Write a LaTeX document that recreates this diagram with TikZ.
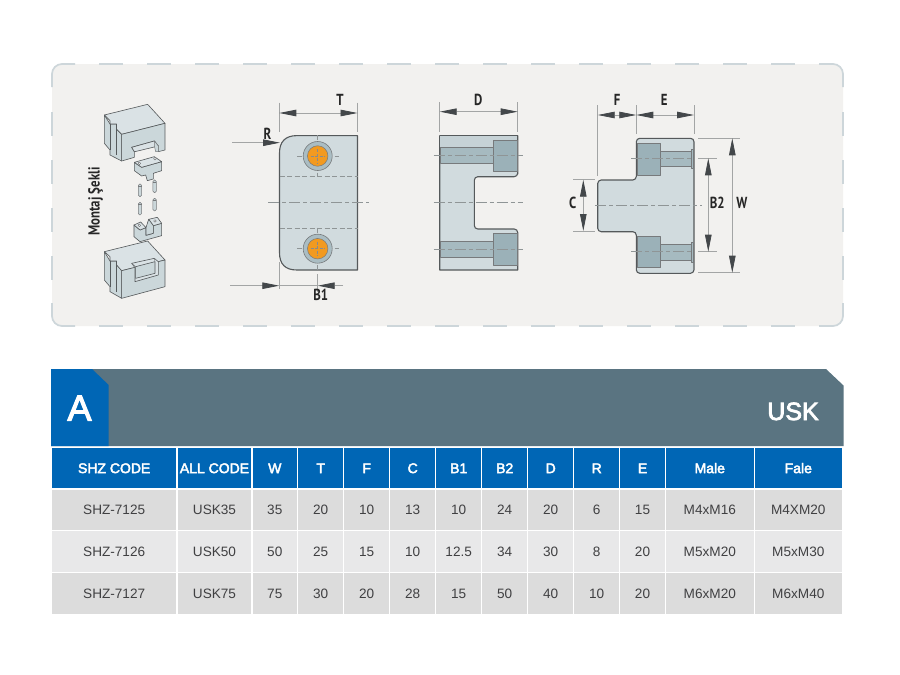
\documentclass[tikz,border=0pt]{standalone}
\usepackage{fontspec}
\usepackage{graphicx}
\setmainfont{Liberation Sans}
\newfontfamily\dinfont{PT Sans}
\newfontfamily\medfont[FakeBold=3]{Liberation Sans}
\usetikzlibrary{arrows.meta}
\definecolor{panelbg}{HTML}{F2F1EF}
\definecolor{panelln}{HTML}{CDD6DA}
\definecolor{steel}{HTML}{D1DBDE}
\definecolor{steelb}{HTML}{C6D2D6}
\definecolor{steeld}{HTML}{A6BAC0}
\definecolor{steelc}{HTML}{9BB1B8}
\definecolor{isolight}{HTML}{DAE2E5}
\definecolor{isomid}{HTML}{CBD7DA}
\definecolor{edge}{HTML}{55595B}
\definecolor{dimln}{HTML}{A3A5A5}
\definecolor{tipc}{HTML}{43474A}
\definecolor{cline}{HTML}{8F9596}
\definecolor{orangeb}{HTML}{F29A20}
\definecolor{banner}{HTML}{5A7481}
\definecolor{blueh}{HTML}{0066B5}
\definecolor{rowa}{HTML}{DCDCDC}
\definecolor{rowb}{HTML}{E8E8E9}
\definecolor{bodytx}{HTML}{404042}
\newcommand\tcell[7]{\fill[#1] (#3,#5) rectangle (#4,#6);
  \node[#2] (#7) at ({(#3+#4)/2},{(#5+#6)/2+5.2}) {\cellt};}
\newcommand\condt[1]{\scalebox{.8}[1]{#1}}
\tikzset{
  dimtip/.tip={Triangle[length=17pt,width=6.5pt,color=tipc,fill=tipc]},
  dimline/.style={draw=dimln,line width=.8pt},
  dimarrow/.style={dimline,{dimtip}-{dimtip}},
  dimlabel/.style={font=\dinfont\bfseries\fontsize{16}{16}\selectfont,text=black!85,inner sep=0pt},
  bodyln/.style={draw=edge,line width=1.1pt,line join=round},
  thin edge/.style={draw=edge!80,line width=.5pt,line join=round},
  cent/.style={draw=cline,line width=.8pt,dash pattern=on 11pt off 3pt on 4pt off 3pt},
  hid/.style={draw=cline,line width=.6pt,dash pattern=on 5pt off 2.5pt},
  isoA/.style={draw=edge,line width=.6pt,line join=round,fill=isolight},
  isoB/.style={draw=edge,line width=.6pt,line join=round,fill=isomid},
  hcell/.style={anchor=base,text=white,inner sep=0pt,font=\medfont\fontsize{14}{14}\selectfont},
  bcell/.style={anchor=base,text=bodytx,inner sep=0pt,font=\fontsize{13.6}{14}\selectfont},
  panelstroke/.style={draw=panelln,line width=1.7pt},
}
\begin{document}
\begin{tikzpicture}[x=1pt,y=-1pt]
\useasboundingbox (0,0) rectangle (900,675);
\fill[white] (0,0) rectangle (900,675);
% panel
\fill[panelbg,rounded corners=10pt] (52,64) rectangle (843,326);
\draw[panelstroke,rounded corners=10pt] (52,87) -- (52,64) -- (75,64);
\draw[panelstroke,rounded corners=10pt] (52,303) -- (52,326) -- (75,326);
\draw[panelstroke,rounded corners=10pt] (843,87) -- (843,64) -- (819,64);
\draw[panelstroke,rounded corners=10pt] (843,303) -- (843,326) -- (819,326);
\foreach \x in {99,147,...,771}{
  \draw[panelstroke] (\x,64) -- (\x+24,64);
  \draw[panelstroke] (\x,326) -- (\x+24,326);}
\foreach \y in {112,160,208,256}{
  \draw[panelstroke] (52,\y) -- (52,\y+24);
  \draw[panelstroke] (843,\y) -- (843,\y+24);}

% assembly: upper block
\begin{scope}[shift={(95,100)},x=.3333pt,y=-.3333pt]
  \draw[isoB] (28,45) -- (28,130) -- (45,150) -- (45,165) -- (80,183) -- (80,103) -- (65,88) -- (65,72) -- (45,72) -- cycle;
  \draw[isoA] (28,45) -- (158,13) -- (210,70) -- (80,103) -- (65,88) -- (65,72) -- (45,72) -- (45,62) -- cycle;
  \draw[isoB] (45,72) -- (45,150);
  \draw[isoB] (65,72) -- (65,165);
  \draw[isoB] (80,103) -- (80,183) -- (118,172) -- (118,155) -- (110,142) -- (178,123) -- (190,138) -- (190,155) -- (210,150) -- (210,70) -- cycle;
  \draw[isoA] (110,142) -- (178,123) -- (190,138) -- (124,154) -- (118,155) -- cycle;
  \draw[thin edge,fill=isomid] (178,123) -- (190,138) -- (190,155) -- (182,155) -- (178,137) -- cycle;
\end{scope}
% assembly: lower block
\begin{scope}[shift={(95,215)},x=.3333pt,y=-.3333pt]
  \draw[isoB] (28,110) -- (28,195) -- (45,215) -- (45,230) -- (80,250) -- (80,167) -- (65,150) -- (65,138) -- (45,138) -- cycle;
  \draw[isoA] (28,110) -- (158,78) -- (210,135) -- (80,167) -- (65,150) -- (65,138) -- (45,138) -- (45,125) -- cycle;
  \draw[isoB] (45,138) -- (45,215);
  \draw[isoB] (65,138) -- (65,232);
  \draw[isoB] (80,167) -- (210,135) -- (210,215) -- (80,250) -- cycle;
  \draw[isoA] (110,145) -- (178,130) -- (190,140) -- (190,180) -- (120,200) -- (120,158) -- cycle;
  \draw[isoB] (122,155) -- (180,140) -- (180,175) -- (122,190) -- cycle;
  \draw[thin edge] (110,145) -- (122,155);
  \draw[thin edge] (178,130) -- (180,140);
\end{scope}
% assembly: small parts (zoom-1 frame)
\begin{scope}[shift={(50,60)},x=.3333pt,y=-.3333pt]
  \draw[isoB] (253,307) -- (253,332) -- (275,348) -- (287,345) -- (292,362) -- (310,357) -- (310,340) -- (335,332) -- (335,305) -- (275,322) -- cycle;
  \draw[isoA] (253,307) -- (313,290) -- (335,305) -- (275,322) -- cycle;
  \draw[thin edge,fill=white] (268,310) circle[radius=4];
  \draw[thin edge,fill=white] (315,296) circle[radius=4];
  \foreach \x/\y in {270/372,314/360,270/427,314/415}{
    \draw[thin edge,fill=isomid,rounded corners=1.5pt] (\x-5,\y) rectangle (\x+5,\y+38);
    \draw[thin edge] (\x-5,\y+6) -- (\x+5,\y+6);}
  \draw[isoB] (252,495) -- (252,530) -- (270,545) -- (335,527) -- (335,490) -- (310,497) -- (310,520) -- (288,526) -- (288,503) -- (270,510) -- cycle;
  \draw[isoA] (252,495) -- (272,486) -- (288,503) -- (270,510) -- cycle;
  \draw[isoA] (296,478) -- (322,472) -- (335,490) -- (310,497) -- cycle;
  \draw[isoB] (288,503) -- (296,478) -- (310,497) -- (310,520) -- (288,526) -- cycle;
  \draw[thin edge,fill=white] (268,496) circle[radius=4];
  \draw[thin edge,fill=white] (315,483) circle[radius=4];
\end{scope}
\node[inner sep=0pt,rotate=90,font=\dinfont\bfseries\fontsize{16}{16}\selectfont,text=black!85] (montaj) at (95.5,201.5) {\condt{Montaj Şekli}};

% view 1
\path[fill=steel,bodyln] (297,135.6) .. controls (285,135.6) and (279.5,142) .. (279.5,153) -- (279.5,252.5) .. controls (279.5,264) and (285,270) .. (297,270) -- (357.5,270) -- (357.5,135.6) -- cycle;
\draw[hid] (279.5,176.3) -- (357.5,176.3);
\draw[hid] (279.5,228.3) -- (357.5,228.3);
\draw[cent] (268,202.7) -- (369,202.7);
\foreach \cy/\nm in {156/ta,248.7/tb}{
  \draw[hid] (317.7,\cy-21) -- (317.7,\cy+21);
  \draw[hid] (297,\cy) -- (339,\cy);
  \node[circle,draw=edge!80,line width=.6pt,fill=steelc!85,minimum size=29pt,inner sep=0pt] (\nm) at (317.7,\cy) {};
  \node[circle,draw=edge!80,line width=.5pt,fill=orangeb,minimum size=20.5pt,inner sep=0pt] (\nm o) at (317.7,\cy) {};
  \draw[draw=edge!70,line width=.45pt,dash pattern=on 3pt off 1.5pt] (317.7,\cy-7) -- (317.7,\cy+7) (310.7,\cy) -- (324.7,\cy);
}
% T
\coordinate (tl) at (279.3,113); \coordinate (tr) at (357.5,113);
\draw[dimline] (279.3,102.5) -- (279.3,132);
\draw[dimline] (357.5,102.5) -- (357.5,132);
\draw[dimarrow] (tl) -- (tr);
\node[dimlabel] (lT) at (340,99.5) {\condt{T}};
% R
\coordinate (rs) at (232,142.7); \coordinate (re) at (280,142.7);
\draw[dimline,-{dimtip}] (rs) -- (re);
\node[dimlabel] (lR) at (267.5,134) {\condt{R}};
% B1
\coordinate (bs) at (230,285.7); \coordinate (bl) at (279.3,285.7);
\coordinate (bm) at (317.7,285.7); \coordinate (be) at (343,285.7);
\draw[dimline] (279.3,262) -- (279.3,289);
\draw[dimline] (317.7,274) -- (317.7,292);
\draw[dimline] (bl) -- (bm);
\draw[dimline,-{dimtip}] (bs) -- (bl);
\draw[dimline,-{dimtip}] (be) -- (bm);
\node[dimlabel] (lB1) at (320.7,295) {\condt{B1}};

% view 2
\path[fill=steel,bodyln,rounded corners=0pt] (439.7,135.7) -- (517.7,135.7) -- (517.7,174) [rounded corners=3.5pt] -- (517.7,176.7) -- (474.3,176.7) -- (474.3,229) -- (517.7,229) [rounded corners=0pt] -- (517.7,270) -- (439.7,270) -- cycle;
\fill[steelb] (440.3,136.3) rectangle (517.2,147.5);
\foreach \a/\b/\c/\d in {147.7/163.7/140/171.7,241/257/233.3/265}{
  \draw[thin edge,fill=steeld] (440.2,\a) rectangle (493.3,\b);
  \draw[thin edge,fill=steelc] (493.3,\c) rectangle (517.2,\d);}
\foreach \y in {155.7,202.7,249}{\draw[cent] (433.7,\y) -- (523,\y);}
\draw[dimline] (439.7,102) -- (439.7,132);
\draw[dimline] (517.7,102) -- (517.7,132);
\coordinate (dl) at (439.7,111.7); \coordinate (dr) at (517.7,111.7);
\draw[dimarrow] (dl) -- (dr);
\node[dimlabel] (lD) at (478.3,99.5) {\condt{D}};

% view 3
\path[fill=steel,bodyln,rounded corners=3.5pt] (636.3,138.3) -- (694,138.3) -- (694,273.3) -- (636.3,273.3) -- (636.3,231.7) -- (597.7,231.7) -- (597.7,180) -- (636.3,180) -- cycle;
\foreach \a/\b/\c/\d in {151/166.7/143.3/175,244.3/260/236.7/267.7}{
  \draw[thin edge,fill=steelc] (636.8,\c) rectangle (660.7,\d);
  \draw[thin edge,fill=steeld] (660.7,\a) rectangle (691.5,\b);
  \draw[thin edge,fill=steeld] (691.5,\a-2) rectangle (693.5,\b+2);}
\draw[cent] (595,205.7) -- (702,205.7);
\draw[cent] (631,158.3) -- (694,158.3);
\draw[cent] (631,251.7) -- (694,251.7);
\draw[dimline] (597.7,105) -- (597.7,175.7);
\draw[dimline] (636.3,105) -- (636.3,134.3);
\draw[dimline] (694,105) -- (694,134.3);
\coordinate (fa) at (597.7,115); \coordinate (fb) at (636.3,115); \coordinate (fc) at (694,115);
\draw[dimarrow] (fa) -- (fb);
\draw[dimarrow] (fb) -- (fc);
\node[dimlabel] (lF) at (617,99.5) {\condt{F}};
\node[dimlabel] (lE) at (664.3,99.5) {\condt{E}};
\draw[dimline] (573.3,179.7) -- (595,179.7);
\draw[dimline] (573.3,231) -- (595,231);
\coordinate (ca) at (583.3,179.7); \coordinate (cb) at (583.3,231);
\draw[dimarrow] (ca) -- (cb);
\node[dimlabel] (lC) at (572.7,203.3) {\condt{C}};
\draw[dimline] (698,158.3) -- (716.7,158.3);
\draw[dimline] (698,251.7) -- (716.7,251.7);
\coordinate (ba) at (708.3,158.3); \coordinate (bb) at (708.3,251.7);
\draw[dimarrow] (ba) -- (bb);
\node[dimlabel] (lB2) at (717.3,203.3) {\condt{B2}};
\draw[dimline] (698.3,138.3) -- (740,138.3);
\draw[dimline] (698.3,272.7) -- (740,272.7);
\coordinate (wa) at (732.3,138.3); \coordinate (wb) at (732.3,272.7);
\draw[dimarrow] (wa) -- (wb);
\node[dimlabel] (lW) at (742,203.3) {\condt{W}};

% banner
\fill[banner] (51,369) -- (826,369) -- (843.5,385.5) -- (843.5,446) -- (51,446) -- cycle;
\fill[blueh] (51,369) -- (92,369) -- (108.7,385) -- (108.7,446) -- (51,446) -- cycle;
\node[text=white,inner sep=0pt,anchor=base,font=\medfont\fontsize{36}{36}\selectfont] (tabA) at (79.5,420.5) {A};
\node[text=white,inner sep=0pt,anchor=base,font=\medfont\fontsize{25}{25}\selectfont] (titleU) at (793,420) {USK};

% table
\foreach \a/\b/\t/\n in {52/176.4/SHZ CODE/0,177.8/251.2/ALL CODE/1,252.6/297/W/2,298.4/343/T/3,344.4/389/F/4,390.4/435/C/5,436.4/481/B1/6,482.4/527/B2/7,528.4/573/D/8,574.4/619/R/9,620.4/664.6/E/10,666/753.6/Male/11,755/841.6/Fale/12}{
  \def\cellt{\t}\tcell{blueh}{hcell}{\a}{\b}{447.5}{488.3}{h\n}}
\foreach \a/\b/\t/\n in {52/176.4/SHZ-7125/0,177.8/251.2/USK35/1,252.6/297/35/2,298.4/343/20/3,344.4/389/10/4,390.4/435/13/5,436.4/481/10/6,482.4/527/24/7,528.4/573/20/8,574.4/619/6/9,620.4/664.6/15/10,666/753.6/M4xM16/11,755/841.6/M4XM20/12}{
  \def\cellt{\t}\tcell{rowa}{bcell}{\a}{\b}{489.5}{530}{ra\n}}
\foreach \a/\b/\t/\n in {52/176.4/SHZ-7126/0,177.8/251.2/USK50/1,252.6/297/50/2,298.4/343/25/3,344.4/389/15/4,390.4/435/10/5,436.4/481/12.5/6,482.4/527/34/7,528.4/573/30/8,574.4/619/8/9,620.4/664.6/20/10,666/753.6/M5xM20/11,755/841.6/M5xM30/12}{
  \def\cellt{\t}\tcell{rowb}{bcell}{\a}{\b}{531.3}{571.8}{rb\n}}
\foreach \a/\b/\t/\n in {52/176.4/SHZ-7127/0,177.8/251.2/USK75/1,252.6/297/75/2,298.4/343/30/3,344.4/389/20/4,390.4/435/28/5,436.4/481/15/6,482.4/527/50/7,528.4/573/40/8,574.4/619/10/9,620.4/664.6/20/10,666/753.6/M6xM20/11,755/841.6/M6xM40/12}{
  \def\cellt{\t}\tcell{rowa}{bcell}{\a}{\b}{573.2}{613.7}{rc\n}}
\end{tikzpicture}
\end{document}
